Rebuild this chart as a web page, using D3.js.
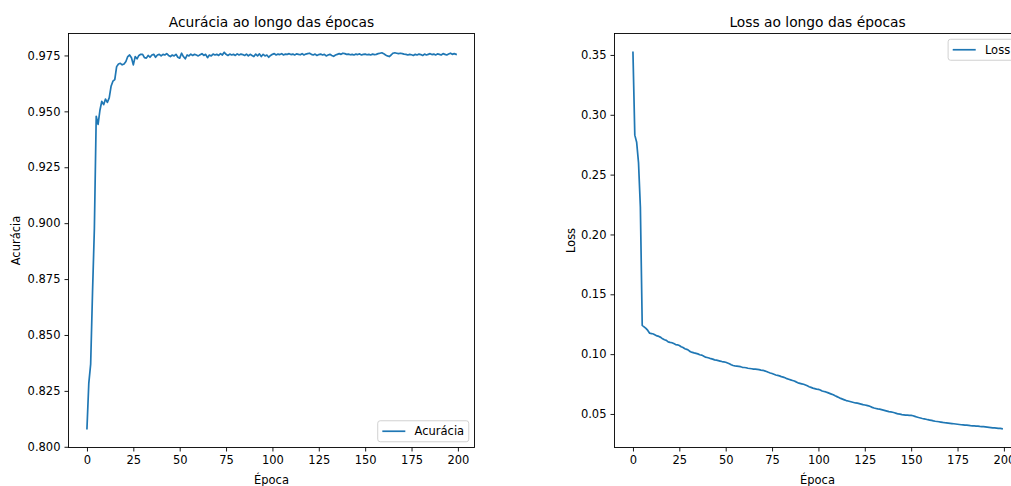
<!DOCTYPE html>
<html>
<head>
<meta charset="utf-8">
<script src="https://cdn.jsdelivr.net/npm/d3@7"></script>
<style>
  body { margin: 0; background: #fff; overflow: hidden; }
  svg { display: block; font-family: "DejaVu Sans", sans-serif; }
</style>
</head>
<body>
<div id="chart"></div>
<script>
// accuracy per epoch
const accuracy = [
  0.8081, 0.8285, 0.8370, 0.8690, 0.8975, 0.9478, 0.9442, 0.9505, 0.9545, 0.9530,
  0.9555, 0.9540, 0.9560, 0.9612, 0.9635, 0.9642, 0.9700, 0.9712, 0.9715, 0.9708,
  0.9712, 0.9723, 0.9745, 0.9752, 0.9740, 0.9708, 0.9745, 0.9735, 0.9750, 0.9755,
  0.9755, 0.9740, 0.9738, 0.9750, 0.9742, 0.9752, 0.9755, 0.9742, 0.9752, 0.9755,
  0.9748, 0.9755, 0.9752, 0.9758, 0.9750, 0.9745, 0.9752, 0.9748, 0.9755, 0.9742,
  0.9738, 0.9760, 0.9745, 0.9735, 0.9752, 0.9748, 0.9756, 0.9750, 0.9755, 0.9752,
  0.9748, 0.9753, 0.9758, 0.9750, 0.9755, 0.9740, 0.9752, 0.9748, 0.9756, 0.9752,
  0.9755, 0.9750, 0.9758, 0.9752, 0.9764, 0.9755, 0.9750, 0.9756, 0.9752, 0.9755,
  0.9750, 0.9757, 0.9752, 0.9756, 0.9754, 0.9750, 0.9756, 0.9748, 0.9755, 0.9750,
  0.9745, 0.9756, 0.9748, 0.9757, 0.9745, 0.9755, 0.9748, 0.9752, 0.9742, 0.9750,
  0.9755, 0.9758, 0.9752, 0.9756, 0.9754, 0.9758, 0.9752, 0.9756, 0.9755, 0.9758,
  0.9754, 0.9756, 0.9752, 0.9757, 0.9755, 0.9753, 0.9758, 0.9752, 0.9756, 0.9758,
  0.9760, 0.9755, 0.9752, 0.9756, 0.9750, 0.9754, 0.9756, 0.9752, 0.9755, 0.9748,
  0.9752, 0.9755, 0.9750, 0.9746, 0.9752, 0.9755, 0.9758, 0.9755, 0.9760, 0.9758,
  0.9755, 0.9756, 0.9753, 0.9755, 0.9752, 0.9756, 0.9754, 0.9757, 0.9752, 0.9755,
  0.9756, 0.9753, 0.9755, 0.9752, 0.9756, 0.9754, 0.9755, 0.9758, 0.9760, 0.9762,
  0.9758, 0.9752, 0.9748, 0.9745, 0.9752, 0.9760, 0.9762, 0.9760, 0.9758, 0.9760,
  0.9758, 0.9756, 0.9755, 0.9752, 0.9755, 0.9753, 0.9750, 0.9755, 0.9752, 0.9756,
  0.9754, 0.9750, 0.9756, 0.9752, 0.9755, 0.9758, 0.9754, 0.9756, 0.9752, 0.9757,
  0.9755, 0.9752, 0.9758, 0.9755, 0.9752, 0.9756, 0.9760, 0.9755, 0.9758, 0.9755
];

// loss per epoch
const loss = [
  0.3522, 0.2830, 0.2770, 0.2600, 0.2230, 0.1240, 0.1228, 0.1215, 0.1198, 0.1175,
  0.1172, 0.1168, 0.1160, 0.1152, 0.1148, 0.1140, 0.1128, 0.1120, 0.1115, 0.1102,
  0.1098, 0.1095, 0.1088, 0.1080, 0.1078, 0.1072, 0.1062, 0.1055, 0.1045, 0.1040,
  0.1032, 0.1020, 0.1015, 0.1010, 0.1006, 0.1002, 0.0995, 0.0992, 0.0985, 0.0975,
  0.0972, 0.0968, 0.0962, 0.0958, 0.0952, 0.0950, 0.0946, 0.0942, 0.0938, 0.0935,
  0.0932, 0.0926, 0.0920, 0.0912, 0.0905, 0.0902, 0.0900, 0.0898, 0.0895, 0.0890,
  0.0888, 0.0886, 0.0882, 0.0880, 0.0878, 0.0875, 0.0874, 0.0872, 0.0870, 0.0867,
  0.0865, 0.0860, 0.0855, 0.0848, 0.0842, 0.0838, 0.0832, 0.0826, 0.0822, 0.0818,
  0.0812, 0.0808, 0.0802, 0.0795, 0.0790, 0.0785, 0.0780, 0.0775, 0.0768, 0.0760,
  0.0756, 0.0752, 0.0748, 0.0742, 0.0735, 0.0728, 0.0722, 0.0716, 0.0712, 0.0708,
  0.0705, 0.0700, 0.0692, 0.0688, 0.0684, 0.0678, 0.0672, 0.0666, 0.0660, 0.0652,
  0.0645, 0.0638, 0.0630, 0.0624, 0.0618, 0.0612, 0.0608, 0.0604, 0.0600, 0.0596,
  0.0592, 0.0590, 0.0586, 0.0582, 0.0578, 0.0575, 0.0572, 0.0568, 0.0562, 0.0555,
  0.0550, 0.0546, 0.0542, 0.0540, 0.0536, 0.0532, 0.0528, 0.0524, 0.0520, 0.0518,
  0.0514, 0.0510, 0.0505, 0.0500, 0.0498, 0.0495, 0.0493, 0.0491, 0.0490, 0.0489,
  0.0488, 0.0485, 0.0480, 0.0475, 0.0470, 0.0466, 0.0462, 0.0459, 0.0456, 0.0452,
  0.0449, 0.0446, 0.0442, 0.0439, 0.0437, 0.0435, 0.0432, 0.0429, 0.0427, 0.0426,
  0.0424, 0.0422, 0.0420, 0.0418, 0.0416, 0.0414, 0.0412, 0.0410, 0.0409, 0.0407,
  0.0406, 0.0404, 0.0402, 0.0401, 0.0400, 0.0399, 0.0398, 0.0396, 0.0395, 0.0394,
  0.0392, 0.0390, 0.0388, 0.0386, 0.0384, 0.0383, 0.0382, 0.0380, 0.0379, 0.0377
];

const xTicks = [0, 25, 50, 75, 100, 125, 150, 175, 200];
const accTicks = [0.800, 0.825, 0.850, 0.875, 0.900, 0.925, 0.950, 0.975];
const lossTicks = [0.05, 0.10, 0.15, 0.20, 0.25, 0.30, 0.35];

const W = 1011, H = 486;
const lineColor = "#1f77b4";
const fs = 11.5;      // 10pt
const titleFs = 13.8; // 12pt

const svg = d3.select("#chart").append("svg")
  .attr("width", W)
  .attr("height", H);

svg.append("rect").attr("width", W).attr("height", H).attr("fill", "#fff");

function drawPanel(opt) {
  const values = opt.values;
  const epochs = d3.range(values.length);

  // matplotlib style 5% margins
  const xr = d3.extent(epochs), yr = d3.extent(values);
  const xm = (xr[1] - xr[0]) * 0.05, ym = (yr[1] - yr[0]) * 0.05;

  const x = d3.scaleLinear()
    .domain([xr[0] - xm, xr[1] + xm])
    .range([opt.left, opt.right]);
  const y = d3.scaleLinear()
    .domain([yr[0] - ym, yr[1] + ym])
    .range([opt.bottom, opt.top]);

  const g = svg.append("g");

  const xAxis = g.append("g")
    .attr("transform", `translate(0,${opt.bottom})`)
    .call(d3.axisBottom(x).tickValues(xTicks).tickSize(4).tickPadding(4).tickFormat(d3.format("d")));
  const yAxis = g.append("g")
    .attr("transform", `translate(${opt.left},0)`)
    .call(d3.axisLeft(y).tickValues(opt.yTicks).tickSize(4).tickPadding(4).tickFormat(d3.format(opt.yFormat)));

  [xAxis, yAxis].forEach(a => {
    a.select(".domain").remove();
    a.selectAll(".tick line").attr("stroke", "#000").attr("stroke-width", 0.9);
    a.selectAll(".tick text")
      .attr("fill", "#000")
      .style("font-size", fs + "px")
      .style("font-family", "DejaVu Sans");
  });

  g.append("path")
    .datum(values)
    .attr("fill", "none")
    .attr("stroke", lineColor)
    .attr("stroke-width", 1.7)
    .attr("stroke-linejoin", "round")
    .attr("stroke-linecap", "square")
    .attr("d", d3.line().x((d, i) => x(epochs[i])).y(d => y(d)));

  // frame
  g.append("rect")
    .attr("x", opt.left).attr("y", opt.top)
    .attr("width", opt.right - opt.left)
    .attr("height", opt.bottom - opt.top)
    .attr("fill", "none")
    .attr("stroke", "#000")
    .attr("stroke-width", 0.9);

  const cx = (opt.left + opt.right) / 2;

  g.append("text")
    .attr("x", cx).attr("y", opt.top - 7)
    .attr("text-anchor", "middle")
    .style("font-size", titleFs + "px")
    .text(opt.title);

  g.append("text")
    .attr("x", cx).attr("y", 484)
    .attr("text-anchor", "middle")
    .style("font-size", fs + "px")
    .text("Época");

  g.append("text")
    .attr("transform", `translate(${opt.ylabelX},${(opt.top + opt.bottom) / 2}) rotate(-90)`)
    .attr("text-anchor", "middle")
    .style("font-size", fs + "px")
    .text(opt.ylabel);

  // legend
  const pad = 0.4 * fs, handle = 2 * fs, gap = 0.8 * fs, axPad = 0.5 * fs, lh = 21;
  const leg = g.append("g");
  const box = leg.append("rect");
  const label = leg.append("text")
    .style("font-size", fs + "px")
    .text(opt.ylabel);
  const tw = label.node().getComputedTextLength();
  const bw = pad + handle + gap + tw + pad;
  const bx = opt.right - axPad - bw;
  const by = opt.legendPos === "lower" ? opt.bottom - axPad - lh : opt.top + axPad;
  box.attr("x", bx).attr("y", by).attr("width", bw).attr("height", lh)
    .attr("rx", 2.5)
    .attr("fill", "#fff").attr("fill-opacity", 0.8)
    .attr("stroke", "#cccccc").attr("stroke-width", 0.9);
  leg.append("line")
    .attr("x1", bx + pad).attr("x2", bx + pad + handle)
    .attr("y1", by + lh / 2).attr("y2", by + lh / 2)
    .attr("stroke", lineColor).attr("stroke-width", 1.7);
  label.attr("x", bx + pad + handle + gap).attr("y", by + lh / 2 + 4);
}

drawPanel({
  values: accuracy,
  left: 68.5, right: 474.5, top: 33.5, bottom: 447.5,
  yTicks: accTicks, yFormat: ".3f",
  title: "Acurácia ao longo das épocas",
  ylabel: "Acurácia", ylabelX: 20,
  legendPos: "lower"
});

drawPanel({
  values: loss,
  left: 614.5, right: 1020.5, top: 33.5, bottom: 447.5,
  yTicks: lossTicks, yFormat: ".2f",
  title: "Loss ao longo das épocas",
  ylabel: "Loss", ylabelX: 575,
  legendPos: "upper"
});
</script>
</body>
</html>
